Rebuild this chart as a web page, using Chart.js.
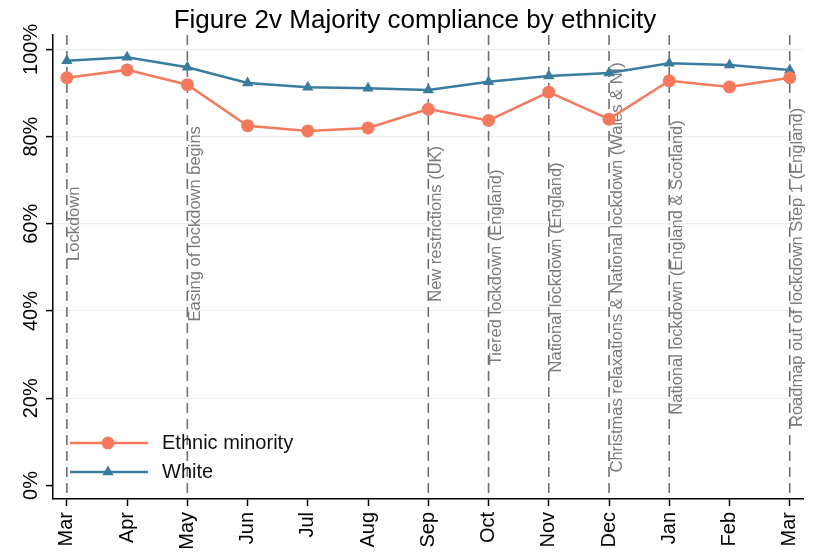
<!DOCTYPE html>
<html>
<head>
<meta charset="utf-8">
<script src="https://cdn.jsdelivr.net/npm/chart.js@4/dist/chart.umd.min.js"></script>
<style>
  html, body { margin: 0; padding: 0; background: #fff; }
  #wrap { width: 819px; height: 552px; position: relative; }
</style>
</head>
<body>
<div id="wrap"><canvas id="chart"></canvas></div>
<script>
const months = ["Mar", "Apr", "May", "Jun", "Jul", "Aug", "Sep", "Oct", "Nov", "Dec", "Jan", "Feb", "Mar"];
const ethnicMinority = [93.5, 95.3, 91.9, 82.5, 81.3, 82.0, 86.3, 83.7, 90.2, 84.0, 92.8, 91.4, 93.5];
const white = [97.4, 98.2, 95.9, 92.3, 91.3, 91.1, 90.7, 92.6, 93.9, 94.6, 96.8, 96.4, 95.3];
const yTicks = [0, 20, 40, 60, 80, 100];

// policy events: month index, text, height of label centre (%)
const eventIdx = [0, 2, 6, 7, 8, 9, 10, 12];
const eventText = [
  "Lockdown",
  "Easing of lockdown begins",
  "New restrictions (UK)",
  "Tiered lockdown (England)",
  "National lockdown (England)",
  "Christmas relaxations & National lockdown (Wales & NI)",
  "National lockdown (England & Scotland)",
  "Roadmap out of lockdown Step 1 (England)",
];
const eventLabelY = [60, 60, 60, 50, 50, 50, 50, 50];

const FONT = "'Liberation Sans', Arial, sans-serif";
const ORANGE = "#f4795d";
const BLUE = "#3a7c9e";

const eventsPlugin = {
  id: "events",
  beforeDatasetsDraw(chart) {
    const { ctx, chartArea, scales } = chart;
    ctx.save();
    eventIdx.forEach((idx, i) => {
      const x = scales.x.getPixelForValue(idx);
      ctx.strokeStyle = "#707070";
      ctx.lineWidth = 1.6;
      ctx.setLineDash([10, 6]);
      ctx.beginPath();
      ctx.moveTo(x, chartArea.top);
      ctx.lineTo(x, chartArea.bottom);
      ctx.stroke();

      ctx.save();
      ctx.translate(x + 12.5, scales.y.getPixelForValue(eventLabelY[i]));
      ctx.rotate(-Math.PI / 2);
      ctx.fillStyle = "#7a7a7a";
      ctx.font = "16.5px " + FONT;
      ctx.textAlign = "center";
      ctx.textBaseline = "alphabetic";
      ctx.fillText(eventText[i], 0, 0);
      ctx.restore();
    });
    ctx.restore();
  },
  afterDraw(chart) {
    const { ctx, chartArea, scales } = chart;
    ctx.save();
    // title
    ctx.fillStyle = "#000";
    ctx.font = "26px " + FONT;
    ctx.textAlign = "center";
    ctx.textBaseline = "alphabetic";
    ctx.fillText("Figure 2v Majority compliance by ethnicity", 415, 28);

    // rotated y tick labels
    ctx.font = "20px " + FONT;
    yTicks.forEach((v) => {
      ctx.save();
      ctx.translate(chartArea.left - 16, scales.y.getPixelForValue(v));
      ctx.rotate(-Math.PI / 2);
      ctx.textAlign = "center";
      ctx.fillText(v + "%", 0, 0);
      ctx.restore();
    });

    // legend inside plot area
    const rows = [
      { label: "Ethnic minority", color: ORANGE, shape: "circle" },
      { label: "White", color: BLUE, shape: "triangle" },
    ];
    rows.forEach((r, i) => {
      const y = 443 + i * 29;
      const x0 = chartArea.left + 17;
      ctx.strokeStyle = r.color;
      ctx.lineWidth = 2.5;
      ctx.setLineDash([]);
      ctx.beginPath();
      ctx.moveTo(x0, y);
      ctx.lineTo(x0 + 78, y);
      ctx.stroke();
      ctx.fillStyle = r.color;
      Chart.helpers.drawPoint(ctx, { pointStyle: r.shape, radius: r.shape === "circle" ? 6.5 : 6.5, borderWidth: 0 }, x0 + 38, y);
      ctx.fillStyle = "#111";
      ctx.textAlign = "left";
      ctx.textBaseline = "middle";
      ctx.font = "20px " + FONT;
      ctx.fillText(r.label, x0 + 92, y);
    });
    ctx.restore();
  },
};

const toPoints = (arr) => arr.map((v, i) => ({ x: i, y: v }));

const createChart = () => {
  const ctx = document.getElementById("chart");
  new Chart(ctx, {
    type: "line",
    data: {
      datasets: [
        {
          label: "Ethnic minority",
          data: toPoints(ethnicMinority),
          borderColor: ORANGE,
          backgroundColor: ORANGE,
          borderWidth: 2.5,
          pointStyle: "circle",
          pointRadius: 6.5,
          pointBorderWidth: 0,
          tension: 0,
        },
        {
          label: "White",
          data: toPoints(white),
          borderColor: BLUE,
          backgroundColor: BLUE,
          borderWidth: 2.5,
          pointStyle: "triangle",
          pointRadius: 6.5,
          pointBorderWidth: 0,
          tension: 0,
        },
      ],
    },
    options: {
      responsive: true,
      maintainAspectRatio: false,
      animation: false,
      layout: { padding: { top: 35, right: 16, left: 0, bottom: 0 } },
      plugins: { legend: { display: false }, title: { display: false }, tooltip: { enabled: false } },
      scales: {
        x: {
          type: "linear",
          min: -0.23,
          max: 12.22,
          afterBuildTicks: (scale) => {
            scale.ticks = months.map((_, i) => ({ value: i }));
          },
          afterFit: (scale) => {
            scale.height = 53;
            scale.paddingLeft = 0;
            scale.paddingRight = 0;
          },
          border: { display: true, color: "#000", width: 1.5 },
          grid: { drawOnChartArea: false, drawTicks: true, tickLength: 7, tickColor: "#000", tickWidth: 1.5 },
          ticks: {
            autoSkip: false,
            minRotation: 90,
            maxRotation: 90,
            padding: 6,
            color: "#000",
            font: { family: FONT, size: 20 },
            callback: (v) => months[v],
          },
        },
        y: {
          min: -3.1,
          max: 103.3,
          afterBuildTicks: (scale) => {
            scale.ticks = yTicks.map((v) => ({ value: v }));
          },
          afterFit: (scale) => {
            scale.width = 53;
          },
          border: { display: true, color: "#000", width: 1.5 },
          grid: {
            color: (c) => (c.tick && c.tick.value === 0 ? "rgba(0,0,0,0)" : "#e8f0f1"),
            lineWidth: 1.2,
            drawTicks: true,
            tickLength: 7,
            tickColor: "#000",
            tickWidth: 1.5,
          },
          ticks: { display: false },
        },
      },
    },
    plugins: [eventsPlugin],
  });
};

createChart();
</script>
</body>
</html>
